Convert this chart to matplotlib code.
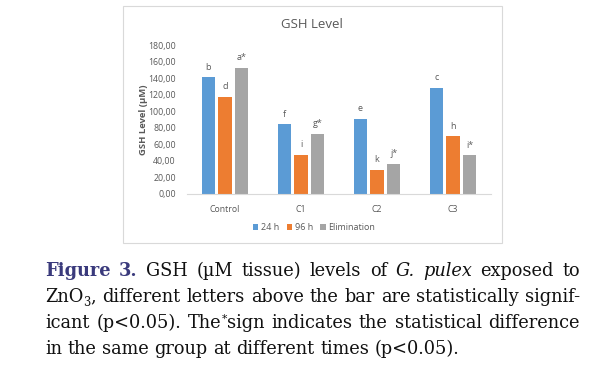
import numpy as np
import matplotlib
matplotlib.use('Agg')
import matplotlib.pyplot as plt
from matplotlib.patches import Rectangle

# Data
groups = ['Control', 'C1', 'C2', 'C3']
series = ['24 h', '96 h', 'Elimination']
h24 = [141.0, 84.3, 91.0, 128.5]
h96 = [117.6, 47.2, 29.2, 69.8]
elim = [152.3, 72.6, 36.3, 46.8]
letters_24 = ['b', 'f', 'e', 'c']
letters_96 = ['d', 'i', 'k', 'h']
letters_el = ['a*', 'g*', 'j*', 'i*']
yticks = np.arange(0, 181, 20)

colors = ['#5b9bd5', '#ed7d31', '#a5a5a5']
txt = '#595959'
W, H = 596, 369
chart_font = ['Open Sans', 'DejaVu Sans']

fig = plt.figure(figsize=(W / 100, H / 100), dpi=100)
fig.patch.set_facecolor('white')

# chart frame
fig.patches.append(Rectangle((123 / W, 1 - 243 / H), (502 - 123) / W, (243 - 6) / H,
                             transform=fig.transFigure, fill=False,
                             edgecolor='#d9d9d9', linewidth=0.8))

ax = fig.add_axes([187 / W, 1 - 194 / H, (491 - 187) / W, (194 - 45) / H])
x = np.arange(len(groups))
bw = 0.175
step = 0.22
all_vals = [h24, h96, elim]
all_letters = [letters_24, letters_96, letters_el]
for i, (vals, labs) in enumerate(zip(all_vals, all_letters)):
    pos = x + (i - 1) * step
    ax.bar(pos, vals, width=bw, color=colors[i], label=series[i], zorder=2)
    for p, v, l in zip(pos, vals, labs):
        ax.annotate(l, (p, v), xytext=(0, 4), textcoords='offset points',
                    ha='center', va='bottom', fontsize=6.5, color=txt,
                    family=chart_font)

ax.set_xlim(-0.5, 3.5)
ax.set_ylim(0, 180)
ax.set_yticks(yticks)
ax.set_yticklabels([('%.2f' % v).replace('.', ',') for v in yticks])
ax.set_xticks(x)
ax.set_xticklabels(groups)
for s in ['top', 'right', 'left']:
    ax.spines[s].set_visible(False)
ax.spines['bottom'].set_color('#d9d9d9')
ax.tick_params(axis='both', length=0, labelsize=6.3, labelcolor=txt)
ax.tick_params(axis='y', pad=8)
ax.tick_params(axis='x', pad=8)
for lab in ax.get_xticklabels() + ax.get_yticklabels():
    lab.set_family(chart_font)

fig.text(143 / W, 1 - 119.5 / H, 'GSH Level (µM)', rotation=90, ha='center',
         va='center', fontsize=6.8, fontweight='bold', color=txt, family=chart_font)
fig.text(312 / W, 1 - 24 / H, 'GSH Level', ha='center', va='center',
         fontsize=9.5, color=txt, family=chart_font)

leg = ax.legend(loc='center', bbox_to_anchor=(314 / W, 1 - 228 / H),
                bbox_transform=fig.transFigure, ncol=3, frameon=False,
                handlelength=0.6, handleheight=0.6,
                handletextpad=0.3, columnspacing=0.8,
                prop={'family': chart_font, 'size': 6.5})
for t in leg.get_texts():
    t.set_color(txt)

# caption, justified by hand
cap_font = 'DejaVu Serif'
cap_size = 12.8
blue = '#3a3a7c'
L, R = 45, 580
baselines = [275.7, 301.7, 327.7, 354.5]


# each word is a list of pieces: (text, weight, style, color, scale, dy)
def w(t, weight='normal', style='normal', color='#111111'):
    return [(t, weight, style, color, 1.0, 0)]


lines = [
    [w('Figure', 'bold', color=blue), w('3.', 'bold', color=blue), w('GSH'), w('(µM'),
     w('tissue)'), w('levels'), w('of'), w('G.', style='italic'),
     w('pulex', style='italic'), w('exposed'), w('to')],
    [[('ZnO', 'normal', 'normal', '#111111', 1.0, 0),
      ('3', 'normal', 'normal', '#111111', 0.65, -4),
      (',', 'normal', 'normal', '#111111', 1.0, 0)],
     w('different'), w('letters'), w('above'), w('the'), w('bar'), w('are'),
     w('statistically'), w('signif-')],
    [w('icant'), w('(p<0.05).'),
     [('The', 'normal', 'normal', '#111111', 1.0, 0),
      ('*', 'normal', 'normal', '#111111', 0.6, 6),
      ('sign', 'normal', 'normal', '#111111', 1.0, 0)],
     w('indicates'), w('the'), w('statistical'), w('difference')],
    [w('in'), w('the'), w('same'), w('group'), w('at'), w('different'),
     w('times'), w('(p<0.05).')],
]

renderer = fig.canvas.get_renderer()


def piece_width(t, weight, style, size):
    tt = fig.text(0, 0, t, fontsize=size, family=cap_font, fontweight=weight,
                  fontstyle=style)
    bb = tt.get_window_extent(renderer)
    tt.remove()
    return bb.width


space = piece_width('a a', 'normal', 'normal', cap_size) - piece_width('aa', 'normal', 'normal', cap_size)

for li, words in enumerate(lines):
    widths = []
    for word in words:
        widths.append(sum(piece_width(p[0], p[1], p[2], cap_size * p[4]) for p in word))
    if li < len(lines) - 1:
        gap = (R - L - sum(widths)) / (len(words) - 1)
    else:
        gap = space
    xpos = L
    for word, ww in zip(words, widths):
        px = xpos
        for (t, weight, style, color, scale, dy) in word:
            fig.text(px / W, 1 - (baselines[li] - dy) / H, t, fontsize=cap_size * scale,
                     family=cap_font, fontweight=weight, fontstyle=style, color=color,
                     va='baseline', ha='left')
            px += piece_width(t, weight, style, cap_size * scale)
        xpos += ww + gap

fig.savefig('out.png', dpi=100, facecolor='white')
